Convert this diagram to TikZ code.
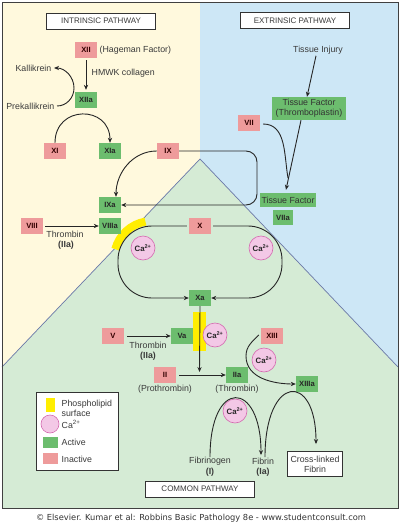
\documentclass[tikz,border=0pt]{standalone}
\usepackage{fontspec}
\setmainfont{Liberation Sans}
\newfontfamily\dejavu{DejaVu Sans}
\usetikzlibrary{arrows.meta,calc}
\definecolor{bgY}{HTML}{FFF9DD}
\definecolor{bgB}{HTML}{CDE7F6}
\definecolor{bgG}{HTML}{D5EBD5}
\definecolor{actG}{HTML}{6CBD6E}
\definecolor{inaP}{HTML}{EE9B9B}
\definecolor{caF}{HTML}{F3C8E6}
\definecolor{caD}{HTML}{D46AB0}
\definecolor{phY}{HTML}{FFEE00}
\definecolor{txt}{HTML}{3A3A3A}
\definecolor{edge}{HTML}{6A78A8}
\begin{document}
\begin{tikzpicture}[x=1pt,y=1pt,
 lbl/.style={font=\fontsize{8.8}{10}\selectfont, text=txt, inner sep=0.5pt, align=center},
 blbl/.style={lbl, font=\fontsize{8.8}{10}\bfseries\selectfont},
 fac/.style={font=\fontsize{7.6}{9}\bfseries\selectfont, minimum width=22pt, minimum height=16pt, inner sep=1pt},
 act/.style={fac, fill=actG, text=black!85},
 ina/.style={fac, fill=inaP, text=black!80!red},
 ca/.style={circle, fill=caF, draw=caD, line width=0.6pt, minimum size=24pt, inner sep=0pt, font=\fontsize{7.8}{9}\bfseries\selectfont, text=black!85},
 titlebox/.style={draw=black!80, line width=0.9pt, fill=white, minimum width=109pt, minimum height=16pt, inner sep=1pt, font=\fontsize{8}{9}\selectfont, text=txt},
 arr/.style={-{Stealth[length=5pt,width=4.2pt]}, line width=0.9pt, draw=black!85},
 ln/.style={line width=0.9pt, draw=black!85}]

\useasboundingbox (0,0) rectangle (400,-525);
\fill[white] (0,0) rectangle (400,-525);
% backgrounds
\fill[bgY] (2,-2) -- (200,-2) -- (200,-159) -- (2,-367) -- cycle;
\fill[bgB] (200,-2) -- (398,-2) -- (398,-367) -- (200,-159) -- cycle;
\fill[bgG] (200,-159) -- (398,-367) -- (398,-508) -- (2,-508) -- (2,-367) -- cycle;
\draw[edge, line width=0.7pt] (2,-367) -- (200,-159) -- (398,-367);
\draw[black!75, line width=1pt] (2,-2) rectangle (398,-508);

% phospholipid arc
\draw[phY, line width=8pt] (152,-259) ++(100:38) arc(100:165:38);
\fill[phY] (193,-312) rectangle (206,-351);

% titles
\node[titlebox] (intr) at (101,-21) {INTRINSIC PATHWAY};
\node[titlebox] (extr) at (295,-20.5) {EXTRINSIC PATHWAY};
\node[titlebox] (comm) at (200,-489) {COMMON PATHWAY};

% intrinsic
\node[ina] (XII) at (86,-50) {XII};
\node[lbl, anchor=west] (hag) at (99,-50) {(Hageman Factor)};
\node[act] (XIIa) at (86,-100) {XIIa};
\node[lbl, anchor=west] (hmwk) at (91,-73) {HMWK collagen};
\node[lbl, anchor=east] (kall) at (52,-68) {Kallikrein};
\node[lbl, anchor=east] (prek) at (55,-106) {Prekallikrein};
\node[ina] (XI) at (55,-151) {XI};
\node[act] (XIa) at (110,-151) {XIa};
\node[ina] (IX) at (168,-151) {IX};
\node[act] (IXa) at (110,-205) {IXa};
\node[act] (VIIIa) at (110,-226) {VIIIa};
\node[ina] (VIII) at (32,-226) {VIII};
\node[lbl] (thr1) at (65,-234) {Thrombin};
\node[blbl] (thr1b) at (66,-245) {(IIa)};

% extrinsic
\node[lbl] (inj) at (318,-50) {Tissue Injury};
\node[lbl, fill=actG, minimum width=74pt, minimum height=23pt, text=black!80] (TF) at (309,-108.5) {Tissue Factor\\(Thromboplastin)};
\node[ina] (VII) at (249,-123) {VII};
\node[lbl, fill=actG, minimum width=56pt, minimum height=14pt, text=black!80] (TFl) at (288,-200) {Tissue Factor};
\node[act, minimum width=20pt, minimum height=15pt] (VIIa) at (283,-217.5) {VIIa};

% X loop
\node[ina] (X) at (200,-226) {X};
\node[act] (Xa) at (200,-298) {Xa};
\node[ca] (ca1) at (143,-248) {Ca\textsuperscript{2+}};
\node[ca] (ca2) at (261,-248) {Ca\textsuperscript{2+}};

% common
\node[ina] (V) at (113,-336) {V};
\node[act] (Va) at (182,-336) {Va};
\node[lbl] (thr2) at (148,-345) {Thrombin};
\node[blbl] (thr2b) at (148,-356) {(IIa)};
\node[ca] (ca3) at (215,-335) {Ca\textsuperscript{2+}};
\node[ina] (II) at (165,-375) {II};
\node[lbl] (proth) at (165,-389) {(Prothrombin)};
\node[act] (IIa) at (237,-375) {IIa};
\node[lbl] (thromb) at (237,-389) {(Thrombin)};
\node[ina] (XIII) at (272,-336) {XIII};
\node[ca] (ca4) at (264,-360) {Ca\textsuperscript{2+}};
\node[act] (XIIIa) at (307,-384) {XIIIa};
\node[ca] (ca5) at (235,-411) {Ca\textsuperscript{2+}};
\node[lbl] (fbg) at (210,-461) {Fibrinogen};
\node[blbl] (fbgb) at (210,-472) {(I)};
\node[lbl] (fbn) at (263,-461) {Fibrin};
\node[blbl] (fbnb) at (263,-472) {(Ia)};
\node[lbl, draw=black!80, line width=0.9pt, fill=white, minimum width=55pt, minimum height=25pt] (cross) at (315,-464) {Cross-linked\\Fibrin};

% legend
\node[draw=black!80, fill=white, line width=0.9pt, minimum width=82pt, minimum height=78pt, anchor=north west, inner sep=0pt] (legend) at (36,-392) {};
\fill[phY] (46,-398) rectangle (55,-412);
\node[lbl, anchor=west, align=left] (lgph) at (61,-408) {Phospholipid\\surface};
\node[ca, minimum size=18pt] (lgca) at (50,-424) {};
\node[lbl, anchor=west] (lgcat) at (61,-424) {Ca\textsuperscript{2+}};
\fill[actG] (43,-437) rectangle (58,-448);
\node[lbl, anchor=west] (lgact) at (61,-442) {Active};
\fill[inaP] (43,-453) rectangle (58,-464);
\node[lbl, anchor=west] (lgina) at (61,-459) {Inactive};

% copyright
\node[font=\dejavu\fontsize{8.3}{9}\selectfont, text=black!80] (copy) at (201,-518) {© Elsevier. Kumar et al: Robbins Basic Pathology 8e - www.studentconsult.com};

% connectors
\draw[arr, shorten <=2pt, shorten >=2pt] (XII) -- (XIIa);
\draw[arr] (prek.east) ++(2,0) coordinate (pk) to[out=0,in=-90] (74,-88) coordinate (pkm) to[out=90,in=0] ($(kall.east)+(2,0)$);
\draw[arr] (XI.north) .. controls +(0,38) and +(0,38) .. (XIa.north);
\draw[arr] (IX.west) to[out=180,in=90] ($(IXa.north)+(6,0)$);
\draw[arr, rounded corners=11pt] (IX.east) -- (257,-151) -- (257,-205) -- (IXa.east);
\draw[arr] (VIII.east) ++(2,0) -- (VIIIa.west);
\draw[arr, rounded corners=34pt, shorten <=2pt] (X.west) -- (118,-226) -- (118,-298) -- (Xa.west);
\draw[arr, rounded corners=34pt, shorten <=2pt] (X.east) -- (282,-226) -- (282,-298) -- (Xa.east);
\draw[arr] (Xa.south) -- (199.5,-372);
\draw[arr, shorten <=3pt] (V.east) -- (Va.west);
\draw[arr, shorten <=3pt] (II.east) -- (IIa.west);
\draw[arr] (inj.south) ++(-2,-1) -- ($(TF.north)+(-2,0)$);
\draw[arr] ($(TF.south)+(-8,0)$) -- ($(TFl.north)+(-2,3)$);
\draw[ln] ($(VII.east)+(3,-1)$) to[out=0,in=100] (288,-178);
\draw[arr] ($(XIII.west)+(-2,1)$) to[out=225,in=90] (246,-356) to[out=-90,in=180] (XIIIa.west);
\draw[arr] ($(fbg.north)+(0,-1)$) .. controls +(0,80) and +(0,75) .. ($(fbn.north)+(-2,2)$);
\draw[arr] ($(fbn.north)+(2,0)$) .. controls +(0,83) and +(0,73) .. ($(cross.north)+(1,7)$);
\end{tikzpicture}
\end{document}
